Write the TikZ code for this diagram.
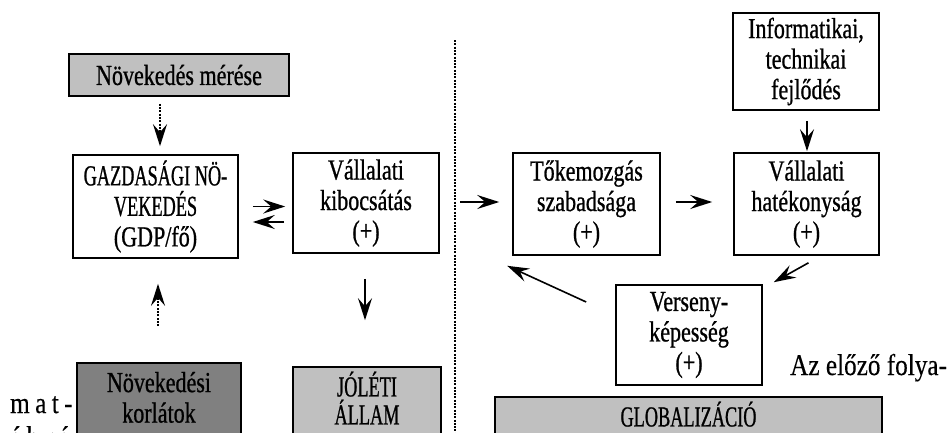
\documentclass[tikz,border=0pt]{standalone}
\usepackage{fontspec}
\setmainfont{Liberation Serif}
\newfontfamily\lfont[FakeStretch=0.76,FakeBold=0.8]{Liberation Serif}
\newfontfamily\cfont[FakeStretch=0.63,FakeBold=0.8]{Liberation Serif}
\newfontfamily\bfont[FakeStretch=0.84,FakeBold=0.3]{Liberation Serif}
\usetikzlibrary{arrows.meta,calc}
\definecolor{lgray}{HTML}{C0C0C0}
\definecolor{dgray}{HTML}{808080}
\tikzset{
  box/.style={draw=black, line width=1.6pt, inner sep=0pt, align=center,
    font=\lfont\fontsize{29}{30.5}\selectfont},
  capbox/.style={box, font=\cfont\fontsize{29}{30.5}\selectfont},
  arr/.style={line width=1.6pt, -{Stealth[length=22pt,width=14pt,inset=8pt]}},
  dotarr/.style={arr, dash pattern=on 2pt off 1.3pt},
  divider/.style={line width=1.6pt, dash pattern=on 2pt off 1.3pt},
  body/.style={inner sep=0pt, font=\bfont\fontsize{30}{36}\selectfont}
}
\begin{document}
\begin{tikzpicture}[x=1pt,y=-1pt]
\useasboundingbox (0,0) rectangle (949,432);

% left part
\node[box, fill=lgray, minimum width=220pt, minimum height=42pt] (mer) at (179,75) {Növekedés mérése};
\node[capbox, minimum width=165pt, minimum height=103pt] (gdp) at (155.5,206.5)
  {GAZDASÁGI NÖ-\\VEKEDÉS\\{\lfont(GDP/fő)}};
\node[box, minimum width=146pt, minimum height=100pt] (kib) at (366,203)
  {Vállalati\\kibocsátás\\(+)};
\node[box, fill=dgray, minimum width=164pt, minimum height=76pt, text depth=7.5pt] (kor) at (159,401)
  {Növekedési\\korlátok};
\node[capbox, fill=lgray, minimum width=148pt, minimum height=72pt, text depth=10pt,
  font=\cfont\fontsize{29}{28}\selectfont] (jol) at (367,403)
  {JÓLÉTI\\ÁLLAM};

% right part
\node[box, minimum width=146pt, minimum height=97pt] (info) at (806,61.5)
  {Informatikai,\\technikai\\fejlődés};
\node[box, minimum width=147pt, minimum height=102pt] (tok) at (586.5,204)
  {Tőkemozgás\\szabadsága\\(+)};
\node[box, minimum width=145pt, minimum height=102pt] (hat) at (806.5,204)
  {Vállalati\\hatékonyság\\(+)};
\node[box, minimum width=146pt, minimum height=100pt] (ver) at (689,335)
  {Verseny-\\képesség\\(+)};
\node[capbox, fill=lgray, minimum width=387pt, minimum height=38pt, text depth=4pt] (glob) at (688.5,416)
  {GLOBALIZÁCIÓ};

% body text fragments
\node[body, anchor=base west, font=\bfont\fontsize{30}{36}\selectfont\addfontfeature{LetterSpace=18}] (mat) at (10,413) {mat-};
\node[body, anchor=base west, font=\bfont\fontsize{30}{36}\selectfont\addfontfeature{LetterSpace=18}] (abra) at (10,447) {ábrá};
\node[body, anchor=base west] (azelozo) at (790,375) {Az előző folya-};

% divider
\coordinate (divtop) at (455,40);
\coordinate (divbot) at (455,440);
\draw[divider] (divtop) -- (divbot);

% connectors left
\draw[dotarr, shorten <=7pt, shorten >=8pt]
  ([xshift=4.5pt]gdp.north |- mer.south) -- ([xshift=4.5pt]gdp.north);
\draw[arr, shorten <=14pt, shorten >=7pt]
  (gdp.east) -- (gdp.east -| kib.west);
\draw[arr, shorten <=8pt, shorten >=14pt]
  ([yshift=-15.5pt]gdp.east -| kib.west) -- ([yshift=-15.5pt]gdp.east);
\draw[dotarr, shorten <=36pt, shorten >=25pt]
  ([xshift=-1pt]kor.north) -- ([xshift=-1pt]kor.north |- gdp.south);
\draw[arr, shorten <=25pt, shorten >=46pt]
  ([xshift=-1pt]kib.south) -- ([xshift=-1pt]kib.south |- jol.north);

% connectors right
\coordinate (inl) at (460,202);
\draw[arr, shorten >=13pt] (inl) -- (inl -| tok.west);
\draw[arr, shorten <=15pt, shorten >=21pt]
  ([yshift=2pt]tok.east) -- ([yshift=2pt]tok.east -| hat.west);
\draw[arr, shorten <=10pt, shorten >=1pt]
  ([xshift=1pt]info.south) -- ([xshift=1pt]info.south |- hat.north);
\draw[arr] ($(hat.south)+(2,7)$) -- ($(ver.north east)+(11,-2)$);
\draw[arr] ($(ver.west)+(-29,-33)$) -- ($(tok.south west)+(-5,10)$);
\end{tikzpicture}
\end{document}
